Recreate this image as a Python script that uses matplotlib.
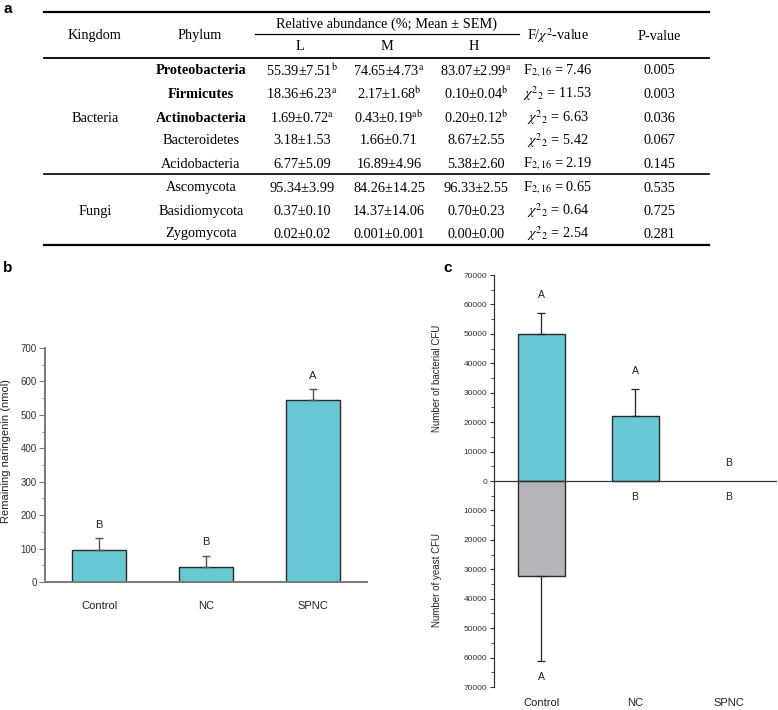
import numpy as np
import matplotlib
matplotlib.use('Agg')
import matplotlib.pyplot as plt
from matplotlib.lines import Line2D
from matplotlib.ticker import MultipleLocator, FuncFormatter

plt.rcParams['mathtext.fontset'] = 'stix'
plt.rcParams['font.family'] = ['Liberation Sans', 'DejaVu Sans']

W, H = 778, 710

#Table data (panel a)
kingdoms = ['Bacteria', 'Fungi']
phyla = ['Proteobacteria', 'Firmicutes', 'Actinobacteria', 'Bacteroidetes', 'Acidobacteria',
         'Ascomycota', 'Basidiomycota', 'Zygomycota']
phyla_bold = [True, True, True, False, False, False, False, False]
col_L = [r'55.39±7.51$^{\mathrm{b}}$', r'18.36±6.23$^{\mathrm{a}}$', r'1.69±0.72$^{\mathrm{a}}$',
         '3.18±1.53', '6.77±5.09', '95.34±3.99', '0.37±0.10', '0.02±0.02']
col_M = [r'74.65±4.73$^{\mathrm{a}}$', r'2.17±1.68$^{\mathrm{b}}$', r'0.43±0.19$^{\mathrm{ab}}$',
         '1.66±0.71', '16.89±4.96', '84.26±14.25', '14.37±14.06', '0.001±0.001']
col_H = [r'83.07±2.99$^{\mathrm{a}}$', r'0.10±0.04$^{\mathrm{b}}$', r'0.20±0.12$^{\mathrm{b}}$',
         '8.67±2.55', '5.38±2.60', '96.33±2.55', '0.70±0.23', '0.00±0.00']
col_F = [r'F$_{2,16}$ = 7.46', r'$\chi^{2}{}_{2}$ = 11.53', r'$\chi^{2}{}_{2}$ = 6.63',
         r'$\chi^{2}{}_{2}$ = 5.42', r'F$_{2,16}$ = 2.19', r'F$_{2,16}$ = 0.65',
         r'$\chi^{2}{}_{2}$ = 0.64', r'$\chi^{2}{}_{2}$ = 2.54']
col_P = ['0.005', '0.003', '0.036', '0.067', '0.145', '0.535', '0.725', '0.281']

#Panel b data
groups = ['Control', 'NC', 'SPNC']
naringenin = [97, 45, 543]
naringenin_err = [35, 34, 34]
naringenin_letters = ['B', 'B', 'A']

#Panel c data
bact_cfu = [49900, 22100, 0]
bact_err = [7200, 9100, 0]
bact_letters = ['A', 'A', 'B']
yeast_cfu = [32300, 0, 0]
yeast_err = [29000, 0, 0]
yeast_letters = ['A', 'B', 'B']

teal = '#66c9d3'
grey_bar = '#b4b5b9'


def fx(x):
    return x / W


def fy(y):
    return 1 - y / H


fig = plt.figure(figsize=(W / 100, H / 100), dpi=100)

#---------------- panel a: table ----------------
serif = ['Liberation Serif', 'DejaVu Serif']
tfs = 10.3


def ttext(x, y, s, **kw):
    fig.text(fx(x), fy(y), s, ha='center', va='center', family=serif, fontsize=tfs, **kw)


def hline(x0, x1, y, lw):
    fig.add_artist(Line2D([fx(x0), fx(x1)], [fy(y), fy(y)], color='black', lw=lw,
                          transform=fig.transFigure))


fig.text(fx(8), fy(9), 'a', ha='center', va='center', fontsize=11, fontweight='bold')
hline(44, 709, 12, 1.6)
hline(255, 519, 34, 0.9)
hline(44, 709, 58, 1.3)
hline(44, 709, 174, 1.2)
hline(44, 709, 245, 1.6)

ttext(95, 36, 'Kingdom')
ttext(200, 36, 'Phylum')
ttext(387, 24, 'Relative abundance (%; Mean ± SEM)')
ttext(300, 47, 'L')
ttext(387, 47, 'M')
ttext(474, 47, 'H')
ttext(558, 36, r'F/$\chi^{2}$-value')
ttext(659, 36, 'P-value')

row_y = [71, 94, 118, 141, 164, 188, 211, 234]
ttext(95, 118, kingdoms[0])
ttext(95, 211, kingdoms[1])
for i in range(len(phyla)):
    y = row_y[i]
    ttext(201, y, phyla[i], fontweight='bold' if phyla_bold[i] else 'normal')
    ttext(302, y, col_L[i])
    ttext(389, y, col_M[i])
    ttext(476, y, col_H[i])
    ttext(558, y, col_F[i])
    ttext(659, y, col_P[i])

#---------------- panel b ----------------
fig.text(fx(8), fy(268), 'b', ha='center', va='center', fontsize=11, fontweight='bold')
axc = '#7a7a7a'
ax = fig.add_axes([fx(45), fy(582), fx(322), 234 / H])
x = np.arange(len(groups))
ax.bar(x, naringenin, width=0.5, color=teal, edgecolor='#2b2b2b', lw=1.0, zorder=2)
ax.errorbar(x, naringenin, yerr=[np.zeros(3), naringenin_err], fmt='none',
            ecolor='#555555', elinewidth=1.0, capsize=3, capthick=1.0, zorder=3)
for i in range(len(groups)):
    ax.text(x[i], naringenin[i] + naringenin_err[i] + 40, naringenin_letters[i],
            ha='center', va='center', fontsize=8, color='#222222')
ax.set_xlim(-0.505, 2.505)
ax.set_ylim(0, 700)
ax.yaxis.set_major_locator(MultipleLocator(100))
ax.yaxis.set_minor_locator(MultipleLocator(50))
for s in ['top', 'right']:
    ax.spines[s].set_visible(False)
for s in ['left', 'bottom']:
    ax.spines[s].set_color(axc)
    ax.spines[s].set_linewidth(1.4)
ax.set_xticks(x)
ax.set_xticklabels(groups, fontsize=8, color='#222222')
ax.tick_params(axis='x', length=0, pad=14)
ax.tick_params(axis='y', which='major', length=4, color=axc, labelsize=7,
               labelcolor='#333333', pad=2)
ax.tick_params(axis='y', which='minor', length=2.5, color=axc)
ax.set_ylabel('Remaining naringenin (nmol)', fontsize=8, color='#222222')
ax.yaxis.set_label_coords(-0.105, 0.56)

#---------------- panel c ----------------
fig.text(fx(448), fy(268), 'c', ha='center', va='center', fontsize=11, fontweight='bold')
ax2 = fig.add_axes([fx(494), fy(687), fx(283), 412 / H])
x = np.arange(len(groups))
b_lw = [1.0 if v > 0 else 0 for v in bact_cfu]
y_lw = [1.0 if v > 0 else 0 for v in yeast_cfu]
ax2.bar(x, bact_cfu, width=0.5, color=teal, edgecolor='#2b2b2b', lw=b_lw, zorder=2)
ax2.bar(x, -np.array(yeast_cfu), width=0.5, color=grey_bar, edgecolor='#2b2b2b', lw=y_lw, zorder=2)
for i in range(len(groups)):
    if bact_err[i] > 0:
        ax2.errorbar(x[i], bact_cfu[i], yerr=[[0], [bact_err[i]]], fmt='none', ecolor='#222222',
                     elinewidth=0.9, capsize=3, capthick=0.9, zorder=3)
    if yeast_err[i] > 0:
        ax2.errorbar(x[i], -yeast_cfu[i], yerr=[[yeast_err[i]], [0]], fmt='none', ecolor='#222222',
                     elinewidth=0.9, capsize=3, capthick=0.9, zorder=3)
    ax2.text(x[i], bact_cfu[i] + bact_err[i] + 6200, bact_letters[i],
             ha='center', va='center', fontsize=7.5, color='#222222')
    ax2.text(x[i], -yeast_cfu[i] - yeast_err[i] - 5300, yeast_letters[i],
             ha='center', va='center', fontsize=7.5, color='#222222')
ax2.axhline(0, color='#333333', lw=0.9, zorder=4)
ax2.set_xlim(-0.5, 2.51)
ax2.set_ylim(-70000, 70000)
ax2.yaxis.set_major_locator(MultipleLocator(10000))
ax2.yaxis.set_minor_locator(MultipleLocator(5000))
ax2.yaxis.set_major_formatter(FuncFormatter(lambda v, p: '%d' % abs(v)))
for s in ['top', 'right', 'bottom']:
    ax2.spines[s].set_visible(False)
ax2.spines['left'].set_color('#333333')
ax2.spines['left'].set_linewidth(0.9)
ax2.set_xticks(x)
ax2.set_xticklabels(groups, fontsize=8, color='#222222')
ax2.tick_params(axis='x', length=0, pad=8)
ax2.tick_params(axis='y', which='major', length=3, color='#333333', labelsize=6,
                labelcolor='#333333', pad=2)
ax2.tick_params(axis='y', which='minor', length=2, color='#333333')
ax2.text(-0.2, 0.75, 'Number of bacterial CFU', transform=ax2.transAxes, rotation=90,
         ha='center', va='center', fontsize=7, color='#222222')
ax2.text(-0.2, 0.26, 'Number of yeast CFU', transform=ax2.transAxes, rotation=90,
         ha='center', va='center', fontsize=7, color='#222222')

fig.savefig('out.png', dpi=100)
